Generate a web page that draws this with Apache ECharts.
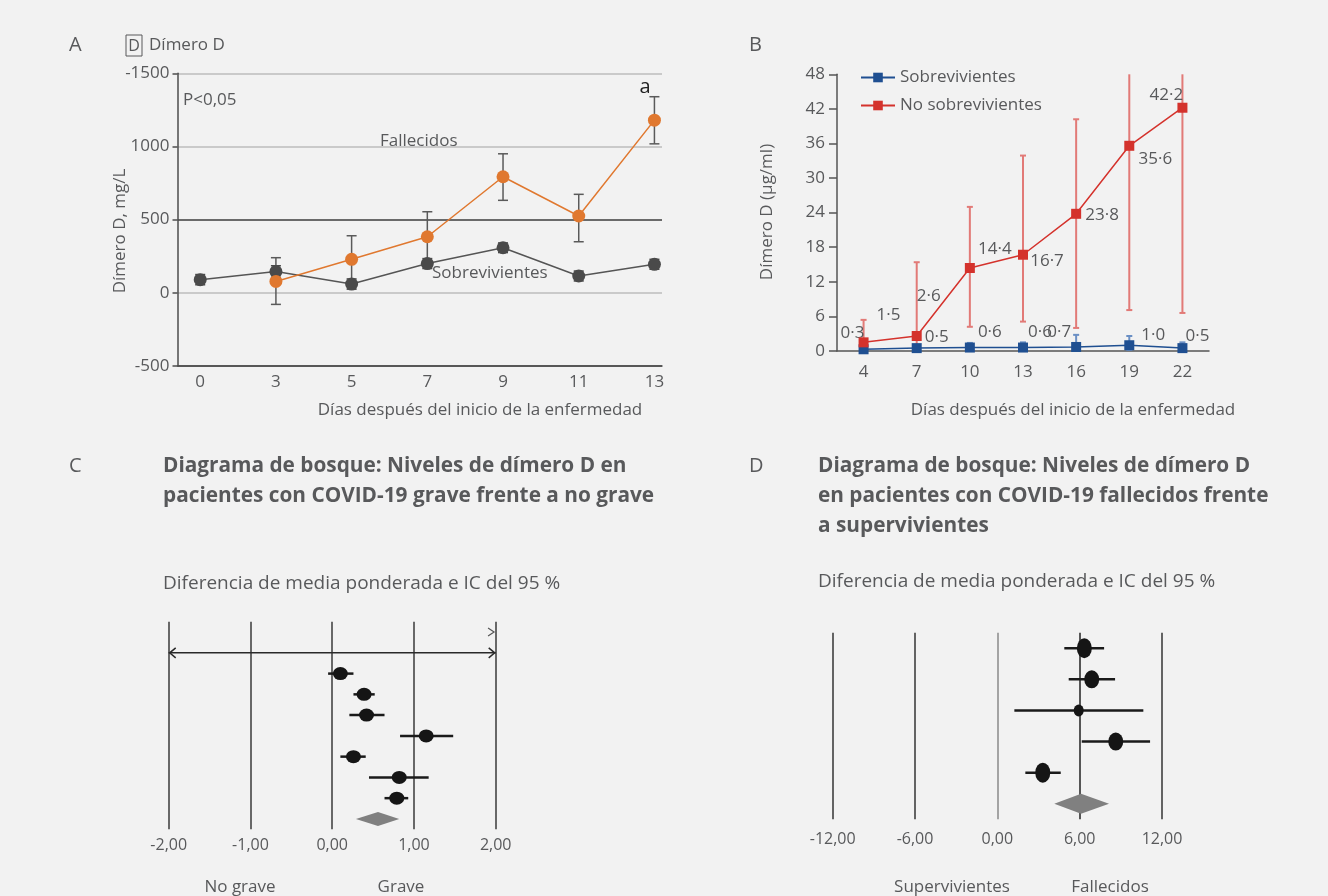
<!DOCTYPE html>
<html>
<head>
<meta charset="utf-8">
<script src="https://cdn.jsdelivr.net/npm/echarts@6/dist/echarts.min.js"></script>
<style>
  html, body { margin: 0; padding: 0; background: #f2f2f2; }
  #chart { width: 1328px; height: 896px; }
</style>
</head>
<body>
<div id="chart"></div>
<script>
// A: dímero D por día, fallecidos / sobrevivientes
const daysA = ['0', '3', '5', '7', '9', '11', '13']
const yLabelsA = ['-500', '0', '500', '1000', '-1500']
const survA = [90, 145, 60, 200, 308, 115, 195]
const survLowA = [55, 105, 25, 166, 275, 81, 161]
const survHighA = [125, 185, 95, 234, 341, 149, 229]
const deadA = [null, 78, 229, 383, 793, 525, 1180]
const deadLowA = [null, -79, 68, 212, 632, 349, 1018]
const deadHighA = [null, 240, 390, 554, 950, 673, 1340]

// B: dímero D (µg/ml)
const daysB = ['4', '7', '10', '13', '16', '19', '22']
const survB = [0.3, 0.5, 0.6, 0.6, 0.7, 1.0, 0.5]
const survLowB = [0.1, 0.2, 0.1, 0.1, 0.1, 0.2, 0.1]
const survHighB = [0.6, 0.8, 1.4, 1.5, 2.8, 2.6, 1.5]
const deadB = [1.5, 2.6, 14.4, 16.7, 23.8, 35.6, 42.2]
const deadLowB = [0, 0, 4.2, 5.1, 4.0, 7.1, 6.6]
const deadHighB = [5.4, 15.4, 25.0, 33.9, 40.2, 48, 48]

// C: grave vs no grave
const estC = [0.10, 0.39, 0.42, 1.15, 0.26, 0.82, 0.79]
const loC = [-0.05, 0.26, 0.21, 0.83, 0.10, 0.45, 0.64]
const hiC = [0.26, 0.52, 0.64, 1.48, 0.41, 1.18, 0.93]
const pooledC = [0.56, 0.29, 0.82]

// D: fallecidos vs supervivientes
const estD = [6.34, 6.88, 5.93, 8.63, 3.31]
const loD = [4.88, 5.2, 1.24, 6.15, 2.04]
const hiD = [7.78, 8.58, 10.64, 11.13, 4.62]
const pooledD = [6.1, 4.15, 8.14]

// estilo
const TXT = '#58595b'
const FONT = 'Open Sans'
const labelOffB_dead = [[25, -27], [12, -40], [25, -19], [24, 6], [26, 1], [26, 13], [-16, -13]]
const labelOffB_surv = [[-11, -16], [20, -11], [20, -15], [17, -15], [-17, -15], [24, -10], [15, -12]]
const dotSizeD = [[15, 20], [15, 18], [10, 12], [15, 18], [15, 20]]

const comma = (v) => v.toFixed(2).replace('.', ',')
const dot = (v) => v.toFixed(1).replace('.', '·')

function errorBars(color, capW, lw, yMax) {
  return (params, api) => {
    const x = api.value(0)
    const lo = api.coord([x, api.value(1)])
    const hi = api.coord([x, api.value(2)])
    const st = { stroke: color, lineWidth: lw }
    const kids = [{ type: 'line', shape: { x1: lo[0], y1: lo[1], x2: hi[0], y2: hi[1] }, style: st }]
    kids.push({ type: 'line', shape: { x1: lo[0] - capW / 2, y1: lo[1], x2: lo[0] + capW / 2, y2: lo[1] }, style: st })
    if (!(yMax && api.value(2) >= yMax)) {
      kids.push({ type: 'line', shape: { x1: hi[0] - capW / 2, y1: hi[1], x2: hi[0] + capW / 2, y2: hi[1] }, style: st })
    }
    return { type: 'group', children: kids }
  }
}

function forest(sizes) {
  return (params, api) => {
    const row = api.value(3)
    const p = api.coord([api.value(0), row])
    const a = api.coord([api.value(1), row])
    const b = api.coord([api.value(2), row])
    const s = sizes[params.dataIndex]
    return {
      type: 'group',
      children: [
        { type: 'line', shape: { x1: a[0], y1: a[1], x2: b[0], y2: b[1] }, style: { stroke: '#1a1a1a', lineWidth: 2.5 } },
        { type: 'circle', x: p[0], y: p[1], scaleY: s[1] / s[0], shape: { cx: 0, cy: 0, r: s[0] / 2 }, style: { fill: '#151515' } }
      ]
    }
  }
}

function diamond(h) {
  return (params, api) => {
    const row = api.value(3)
    const p = api.coord([api.value(0), row])
    const a = api.coord([api.value(1), row])
    const b = api.coord([api.value(2), row])
    return {
      type: 'polygon',
      shape: { points: [[a[0], p[1]], [p[0], p[1] - h], [b[0], p[1]], [p[0], p[1] + h]] },
      style: { fill: '#808080' }
    }
  }
}

const txt = (text, x, y, opt = {}) => ({
  type: 'text', x, y, rotation: opt.rot || 0,
  style: {
    text, fill: opt.color || TXT, font: `${opt.weight || 'normal'} ${opt.size || 17}px "${FONT}"`,
    align: opt.align || 'left', verticalAlign: 'middle'
  }
})

const chart = echarts.init(document.getElementById('chart'))

const axisTxt = { color: TXT, fontSize: 16, fontFamily: FONT }

chart.setOption({
  backgroundColor: '#f2f2f2',
  animation: false,
  textStyle: { fontFamily: FONT },
  grid: [
    { left: 177.5, top: 73.3, width: 484.5, height: 292.7 },
    { left: 837, top: 74.3, width: 372, height: 276.7 },
    { left: 168.7, top: 621.7, width: 327, height: 207.6 },
    { left: 832.7, top: 632.7, width: 329.3, height: 186.6 }
  ],
  legend: {
    data: ['Sobrevivientes', 'No sobrevivientes'],
    orient: 'vertical', left: 855, top: 64,
    itemWidth: 34, itemHeight: 12, itemGap: 11,
    textStyle: { color: TXT, fontSize: 17, fontFamily: FONT }
  },
  xAxis: [
    {
      gridIndex: 0, type: 'value', min: -0.3, max: 6.1,
      axisLine: { onZero: false, lineStyle: { color: '#4d4d4d', width: 1.5 } },
      axisTick: { show: false },
      splitLine: { show: false },
      axisLabel: { ...axisTxt, fontSize: 17, margin: 8, customValues: [0, 1, 2, 3, 4, 5, 6], formatter: (v) => daysA[v] }
    },
    {
      gridIndex: 1, type: 'category', data: daysB, boundaryGap: true,
      axisLine: { onZero: false, lineStyle: { color: '#555', width: 1.5 } },
      axisTick: { show: false },
      axisLabel: { ...axisTxt, fontSize: 17, margin: 13 }
    },
    {
      gridIndex: 2, type: 'value', min: -2, max: 2, interval: 1,
      axisLine: { show: false }, axisTick: { show: false },
      splitLine: { show: true, lineStyle: { color: '#3a3a3a', width: 1.5 } },
      axisLabel: { ...axisTxt, margin: 8, formatter: comma }
    },
    {
      gridIndex: 3, type: 'value', min: -12, max: 12, interval: 6,
      axisLine: { show: false }, axisTick: { show: false },
      splitLine: { show: true, lineStyle: { color: ['#333', '#333', '#8a8a8a', '#222', '#333'], width: 1.5 } },
      axisLabel: { ...axisTxt, margin: 12, formatter: comma }
    }
  ],
  yAxis: [
    {
      gridIndex: 0, type: 'value', min: -500, max: 1500, interval: 500,
      axisLine: { show: true, onZero: false, lineStyle: { color: '#4d4d4d', width: 1.5 } },
      axisTick: { show: true, length: 5, lineStyle: { color: '#4d4d4d', width: 1.5 } },
      splitLine: { show: true, lineStyle: { color: ['#4d4d4d', '#bdbdbd', '#3d3d3d', '#bdbdbd', '#bdbdbd'], width: 1.5 } },
      axisLabel: { ...axisTxt, fontSize: 17, margin: 8, formatter: (v) => yLabelsA[(v + 500) / 500] }
    },
    {
      gridIndex: 1, type: 'value', min: 0, max: 48, interval: 6,
      axisLine: { show: true, onZero: false, lineStyle: { color: '#555', width: 1.5 } },
      axisTick: { show: true, length: 8, lineStyle: { color: '#555', width: 1.5 } },
      splitLine: { show: false },
      axisLabel: { ...axisTxt, fontSize: 17, margin: 12 }
    },
    { gridIndex: 2, type: 'value', min: -1.5, max: 8.5, inverse: true, show: false },
    { gridIndex: 3, type: 'value', min: -0.5, max: 5.5, inverse: true, show: false }
  ],
  series: [
    // ---- A
    {
      type: 'custom', xAxisIndex: 0, yAxisIndex: 0, z: 2,
      renderItem: errorBars('#5a5a5a', 10, 1.5),
      encode: { x: 0, y: [1, 2] },
      data: deadA.map((v, i) => [i, deadLowA[i], deadHighA[i]]).filter((d) => d[1] !== null)
    },
    {
      type: 'custom', xAxisIndex: 0, yAxisIndex: 0, z: 2,
      renderItem: errorBars('#4a4a4a', 10, 1.5),
      encode: { x: 0, y: [1, 2] },
      data: survA.map((v, i) => [i, survLowA[i], survHighA[i]])
    },
    {
      name: 'Sobrevivientes A', type: 'line', xAxisIndex: 0, yAxisIndex: 0, z: 3,
      data: survA.map((v, i) => [i, v]),
      symbol: 'circle', symbolSize: 13,
      lineStyle: { color: '#555', width: 1.5 },
      itemStyle: { color: '#4a4a4a' }
    },
    {
      name: 'Fallecidos A', type: 'line', xAxisIndex: 0, yAxisIndex: 0, z: 4,
      data: deadA.map((v, i) => [i, v]).filter((d) => d[1] !== null),
      symbol: 'circle', symbolSize: 13,
      lineStyle: { color: '#e0782f', width: 1.5 },
      itemStyle: { color: '#e0782f' }
    },
    // ---- B
    {
      type: 'custom', xAxisIndex: 1, yAxisIndex: 1, z: 2,
      renderItem: errorBars('#e27a77', 6, 2, 48),
      encode: { x: 0, y: [1, 2] },
      data: deadB.map((v, i) => [i, deadLowB[i], deadHighB[i]])
    },
    {
      type: 'custom', xAxisIndex: 1, yAxisIndex: 1, z: 2,
      renderItem: errorBars('#6a8fc4', 6, 2),
      encode: { x: 0, y: [1, 2] },
      data: survB.map((v, i) => [i, survLowB[i], survHighB[i]])
    },
    {
      name: 'No sobrevivientes', type: 'line', xAxisIndex: 1, yAxisIndex: 1, z: 4,
      symbol: 'rect', symbolSize: 10,
      lineStyle: { color: '#d4322c', width: 1.5 },
      itemStyle: { color: '#d4322c' },
      data: deadB.map((v, i) => ({
        value: v,
        label: { show: true, position: 'inside', offset: labelOffB_dead[i], formatter: dot(v), color: TXT, fontSize: 17, fontFamily: FONT }
      }))
    },
    {
      name: 'Sobrevivientes', type: 'line', xAxisIndex: 1, yAxisIndex: 1, z: 3,
      symbol: 'rect', symbolSize: 10,
      lineStyle: { color: '#1f4f91', width: 1.5 },
      itemStyle: { color: '#1f4f91' },
      data: survB.map((v, i) => ({
        value: v,
        label: { show: true, position: 'inside', offset: labelOffB_surv[i], formatter: dot(v), color: TXT, fontSize: 17, fontFamily: FONT }
      }))
    },
    // ---- C
    {
      type: 'custom', xAxisIndex: 2, yAxisIndex: 2, z: 3,
      renderItem: forest(estC.map(() => [15, 13])),
      encode: { x: [0, 1, 2], y: 3 },
      data: estC.map((v, i) => [v, loC[i], hiC[i], i + 1])
    },
    {
      type: 'custom', xAxisIndex: 2, yAxisIndex: 2, z: 3,
      renderItem: diamond(7),
      encode: { x: [0, 1, 2], y: 3 },
      data: [[pooledC[0], pooledC[1], pooledC[2], 8]]
    },
    {
      // flecha de escala -2..2 y marca ">"
      type: 'custom', xAxisIndex: 2, yAxisIndex: 2, z: 3,
      renderItem: (params, api) => {
        const a = api.coord([-2, 0])
        const b = api.coord([2, 0])
        const m = api.coord([1.98, -1])
        const st = { stroke: '#2a2a2a', lineWidth: 1.5, fill: null }
        return {
          type: 'group',
          children: [
            { type: 'line', shape: { x1: a[0], y1: a[1], x2: b[0], y2: b[1] }, style: st },
            { type: 'polyline', shape: { points: [[a[0] + 7, a[1] - 5], [a[0] + 1, a[1]], [a[0] + 7, a[1] + 5]] }, style: st },
            { type: 'polyline', shape: { points: [[b[0] - 7, b[1] - 5], [b[0] - 1, b[1]], [b[0] - 7, b[1] + 5]] }, style: st },
            { type: 'polyline', shape: { points: [[m[0] - 6, m[1] - 4], [m[0], m[1]], [m[0] - 6, m[1] + 4]] }, style: { stroke: '#555', lineWidth: 1.2, fill: null } }
          ]
        }
      },
      data: [[0, 0]]
    },
    // ---- D
    {
      type: 'custom', xAxisIndex: 3, yAxisIndex: 3, z: 3,
      renderItem: forest(dotSizeD),
      encode: { x: [0, 1, 2], y: 3 },
      data: estD.map((v, i) => [v, loD[i], hiD[i], i])
    },
    {
      type: 'custom', xAxisIndex: 3, yAxisIndex: 3, z: 3,
      renderItem: diamond(10),
      encode: { x: [0, 1, 2], y: 3 },
      data: [[pooledD[0], pooledD[1], pooledD[2], 5]]
    }
  ],
  graphic: [
    // A
    txt('A', 69, 45, { size: 20 }),
    { type: 'rect', shape: { x: 126, y: 35, width: 16, height: 21 }, style: { stroke: TXT, lineWidth: 1, fill: null } },
    txt('D', 134, 46, { size: 16, align: 'center' }),
    txt('Dímero D', 149, 45, { size: 17 }),
    txt('P<0,05', 183, 100),
    txt('Fallecidos', 380, 141),
    txt('Sobrevivientes', 432, 273),
    txt('a', 645, 87, { size: 20, color: '#222', align: 'center' }),
    txt('Dímero D, mg/L', 120, 231, { align: 'center', rot: Math.PI / 2 }),
    txt('Días después del inicio de la enfermedad', 480, 410, { align: 'center' }),
    // B
    txt('B', 749, 45, { size: 20 }),
    txt('Dímero D (µg/ml)', 767, 212, { align: 'center', rot: Math.PI / 2 }),
    txt('Días después del inicio de la enfermedad', 1073, 410, { align: 'center' }),
    // C
    txt('C', 69, 466, { size: 20 }),
    txt('Diagrama de bosque: Niveles de dímero D en', 163, 466, { size: 20.8, weight: 'bold' }),
    txt('pacientes con COVID-19 grave frente a no grave', 163, 496, { size: 20.8, weight: 'bold' }),
    txt('Diferencia de media ponderada e IC del 95 %', 163, 584, { size: 19 }),
    txt('No grave', 240, 887, { align: 'center' }),
    txt('Grave', 401, 887, { align: 'center' }),
    // D
    txt('D', 749, 466, { size: 20 }),
    txt('Diagrama de bosque: Niveles de dímero D', 818, 466, { size: 20.8, weight: 'bold' }),
    txt('en pacientes con COVID-19 fallecidos frente', 818, 496, { size: 20.8, weight: 'bold' }),
    txt('a supervivientes', 818, 526, { size: 20.8, weight: 'bold' }),
    txt('Diferencia de media ponderada e IC del 95 %', 818, 582, { size: 19 }),
    txt('Supervivientes', 952, 887, { align: 'center' }),
    txt('Fallecidos', 1110, 887, { align: 'center' })
  ]
})
</script>
</body>
</html>
